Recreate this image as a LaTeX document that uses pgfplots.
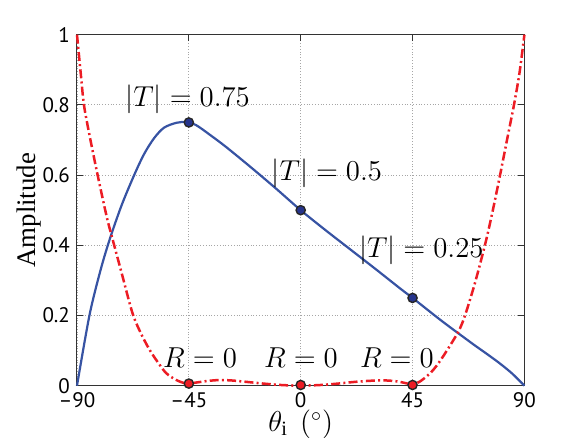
\documentclass[border=0pt]{standalone}
\usepackage{fontspec}
\setmainfont{Liberation Serif}
\newfontfamily\tickfont{PT Sans}
\usepackage{pgfplots}
\pgfplotsset{compat=1.18}
\definecolor{tblue}{RGB}{55,83,163}
\definecolor{rred}{RGB}{236,28,36}
\definecolor{mblue}{RGB}{38,52,140}
\begin{document}
\begin{tikzpicture}
\begin{axis}[
  scale only axis, width=223.7pt, height=175.5pt,
  xmin=-90, xmax=90, ymin=0, ymax=1,
  xtick={-90,-45,0,45,90},
  xticklabels={–90,–45,0,45,90},
  ytick={0,0.2,0.4,0.6,0.8,1},
  yticklabels={0,0.2,0.4,0.6,0.8,1},
  tick label style={font=\tickfont\fontsize{10.5}{12}\selectfont},
  grid=major, grid style={densely dotted, black!35, line width=0.4pt},
  tick align=inside, major tick length=3pt,
  axis line style={line width=0.5pt, black!80},
  every tick/.style={black!80, line width=0.4pt},
  xlabel={$\theta_{\mathrm{i}}\ \,({}^\circ)$},
  ylabel={Amplitude},
  every axis x label/.style={at={(axis description cs:0.5,0)}, anchor=center, inner sep=0pt, yshift=-19.3pt, font=\fontsize{14.5}{16}\selectfont},
  every axis y label/.style={at={(axis description cs:-0.108,0.5)}, anchor=center, rotate=90, font=\fontsize{13.4}{15}\selectfont},
  clip=false,
]
\addplot[tblue, line width=1.1pt, smooth] coordinates {
(-90,0) (-85,0.2) (-80.5,0.33) (-76.7,0.42) (-72,0.515) (-67,0.6)
(-63,0.66) (-59,0.705) (-55,0.735) (-50,0.749) (-46,0.751) (-42,0.742) (-36,0.712)
(-30,0.68) (-20,0.622) (-10,0.562) (0,0.5) (10,0.443) (20,0.388) (30,0.333)
(40,0.277) (45,0.25) (50,0.222) (55,0.194) (60,0.167) (65,0.141) (70,0.115)
(75,0.09) (80,0.064) (85,0.035) (90,0)
};
\addplot[rred, line width=1.25pt, dash pattern=on 4.5pt off 1.6pt on 1pt off 1.6pt, smooth] coordinates {
(-90,1.0) (-88.5,0.89) (-87.2,0.8) (-85,0.715) (-81.7,0.6) (-78,0.48) (-75.6,0.415)
(-72,0.32) (-67.6,0.205) (-64,0.145) (-60.6,0.1) (-57,0.062) (-54,0.035) (-50,0.016)
(-46,0.006) (-43,0.008) (-38,0.013) (-33,0.016) (-28,0.015) (-22,0.011) (-15,0.006)
(-8,0.002) (0,0.0) (8,0.002) (15,0.006) (22,0.011) (28,0.014) (34,0.015) (39,0.012)
(43,0.006) (45,0.003) (48,0.012) (52,0.035) (55,0.06) (58.8,0.1) (63.5,0.155)
(66.1,0.2) (70,0.29) (74.1,0.4) (77,0.49) (80.2,0.6) (83,0.7) (85.8,0.8) (88,0.89) (90,1.0)
};
\addplot[only marks, mark=*, mark size=2.3pt, mark options={fill=mblue, draw=black!85, line width=0.7pt}] coordinates {(-45,0.75) (0,0.5) (45,0.25)};
\addplot[only marks, mark=*, mark size=2.3pt, mark options={fill=rred, draw=black!85, line width=0.7pt}] coordinates {(-45,0.006) (0,0.002) (45,0.002)};
\node[font=\fontsize{14}{15}\selectfont] at (axis cs:-45.5,0.815) {$|T|=0.75$};
\node[font=\fontsize{14}{15}\selectfont] at (axis cs:10.5,0.605) {$|T|=0.5$};
\node[font=\fontsize{13.5}{15}\selectfont] at (axis cs:48.5,0.387) {$|T|=0.25$};
\node[font=\fontsize{14}{15}\selectfont] at (axis cs:-40.5,0.08) {$R=0$};
\node[font=\fontsize{14}{15}\selectfont] at (axis cs:0.1,0.08) {$R=0$};
\node[font=\fontsize{14}{15}\selectfont] at (axis cs:38.7,0.08) {$R=0$};
\end{axis}
\pgfresetboundingbox
\path ([xshift=-38.5pt,yshift=-26.15pt]current axis.south west) rectangle ([xshift=28.3pt,yshift=17.35pt]current axis.north east);
\end{tikzpicture}
\end{document}
